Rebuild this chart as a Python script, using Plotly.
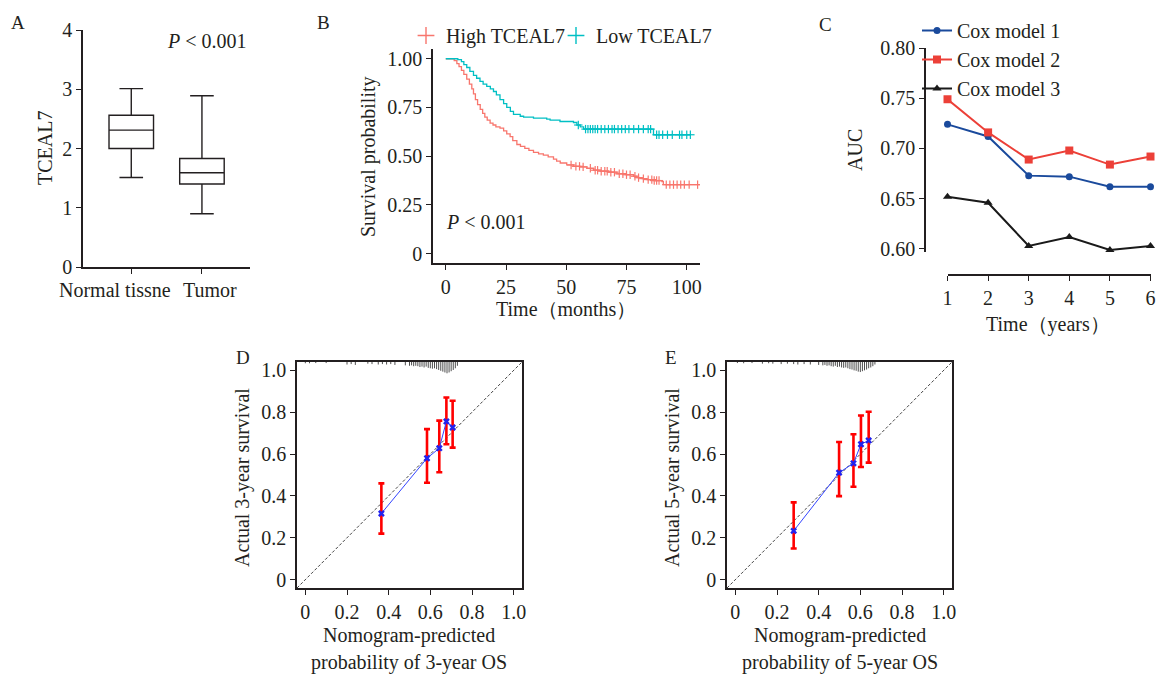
import numpy as np
import plotly.graph_objects as go

W, H = 1157, 675
FONT = "Liberation Serif"
INK = "#231f20"
FS = 20

# ---- A: box plot of TCEAL7 ----
box_groups = ["Normal tissne", "Tumor"]
box_min = [1.51, 0.90]
box_q1 = [2.00, 1.40]
box_med = [2.31, 1.59]
box_q3 = [2.56, 1.83]
box_max = [3.01, 2.89]

# ---- B: Kaplan-Meier ----
high_t = [0, 3.5, 4.6, 5.5, 6.5, 7.5, 8.7, 9.8, 10.8, 11.5, 12.3, 13.2, 14.3, 15.3, 16.2,
          17.2, 18.4, 19.6, 20.8, 22.5, 24.0, 25.3, 26.7, 27.8, 29.5, 31.0, 32.8, 34.5,
          36.4, 38.5, 40.5, 42.5, 44.7, 46.0, 47.5, 50.2, 53.0, 56.0, 58.6, 61.3, 64.1,
          67.5, 71.0, 74.5, 77.9, 79.3, 81.5, 83.5, 86.5, 89.7, 90.3, 105.5]
high_s = [1.0, 0.99, 0.975, 0.96, 0.94, 0.92, 0.895, 0.87, 0.845, 0.82, 0.79, 0.765, 0.74,
          0.72, 0.70, 0.685, 0.67, 0.66, 0.65, 0.644, 0.63, 0.615, 0.60, 0.58, 0.56, 0.55,
          0.54, 0.53, 0.52, 0.512, 0.505, 0.497, 0.485, 0.475, 0.465, 0.455, 0.448, 0.445,
          0.438, 0.428, 0.423, 0.418, 0.41, 0.405, 0.397, 0.39, 0.385, 0.38, 0.375, 0.37,
          0.354, 0.354]
high_cens = [52, 54, 55.5, 57, 60, 62, 63, 64.5, 66, 67, 68.5, 70, 72, 73.5, 75, 76.5, 78.5,
             80, 82, 84, 85.5, 86.5, 87.5, 88.5, 91.5, 93, 94.5, 96, 97.5, 99, 101, 104.5]

low_t = [0, 5.0, 6.5, 7.5, 8.7, 10.0, 11.5, 12.8, 14.2, 15.5, 17.0, 18.5, 19.8, 21.0, 22.5,
         24.0, 25.3, 26.8, 28.1, 30.9, 32.3, 36.4, 41.9, 43.3, 47.4, 53.0, 54.4, 55.8, 57.2,
         86.2, 101.4]
low_s = [1.0, 0.995, 0.985, 0.97, 0.955, 0.935, 0.915, 0.90, 0.884, 0.87, 0.858, 0.845,
         0.832, 0.815, 0.79, 0.77, 0.75, 0.73, 0.715, 0.705, 0.70, 0.695, 0.69, 0.685,
         0.678, 0.673, 0.66, 0.65, 0.639, 0.61, 0.61]
low_cens = [55, 58, 59, 60, 61, 62, 63, 64.5, 66, 67.5, 69, 70, 71.5, 73, 74.5, 76, 78, 80,
            82, 84, 85, 87.5, 88.5, 90, 92, 94, 97, 98, 100, 101.5]

# ---- C: time-dependent AUC ----
years = [1, 2, 3, 4, 5, 6]
auc_m1 = [0.724, 0.712, 0.673, 0.672, 0.662, 0.662]
auc_m2 = [0.749, 0.716, 0.689, 0.698, 0.684, 0.692]
auc_m3 = [0.652, 0.646, 0.603, 0.612, 0.599, 0.603]

# ---- D / E: calibration ----
pred_3y = [0.365, 0.584, 0.643, 0.677, 0.707]
obs_3y = [0.316, 0.580, 0.628, 0.756, 0.727]
lo_3y = [0.220, 0.463, 0.513, 0.647, 0.631]
hi_3y = [0.460, 0.719, 0.760, 0.870, 0.855]

pred_5y = [0.280, 0.498, 0.567, 0.603, 0.640]
obs_5y = [0.233, 0.511, 0.556, 0.647, 0.665]
lo_5y = [0.149, 0.399, 0.444, 0.538, 0.559]
hi_5y = [0.369, 0.658, 0.695, 0.784, 0.802]

rug_x_3y = [0.00, 0.02, 0.05, 0.10, 0.20, 0.22, 0.24, 0.30, 0.32, 0.35, 0.37, 0.39, 0.41,
            0.43, 0.48, 0.50, 0.51, 0.52, 0.53, 0.54, 0.55, 0.56, 0.57, 0.58, 0.59, 0.60,
            0.61, 0.62, 0.63, 0.64, 0.65, 0.66, 0.67, 0.68, 0.69, 0.70, 0.71, 0.72, 0.73]
rug_h_3y = [0.006, 0.006, 0.005, 0.005, 0.012, 0.010, 0.014, 0.008, 0.010, 0.012, 0.010,
            0.012, 0.010, 0.014, 0.016, 0.018, 0.016, 0.020, 0.018, 0.020, 0.024, 0.022,
            0.026, 0.022, 0.028, 0.030, 0.032, 0.030, 0.034, 0.038, 0.042, 0.046, 0.050,
            0.054, 0.050, 0.044, 0.038, 0.030, 0.018]
rug_x_5y = [0.01, 0.04, 0.08, 0.13, 0.16, 0.18, 0.22, 0.25, 0.28, 0.30, 0.33, 0.36, 0.40,
            0.42, 0.43, 0.44, 0.45, 0.46, 0.47, 0.48, 0.49, 0.50, 0.51, 0.52, 0.53, 0.54,
            0.55, 0.56, 0.57, 0.58, 0.59, 0.60, 0.61, 0.62, 0.63, 0.64, 0.65, 0.66, 0.67]
rug_h_5y = [0.005, 0.006, 0.005, 0.008, 0.006, 0.008, 0.010, 0.008, 0.010, 0.012, 0.010,
            0.012, 0.014, 0.016, 0.014, 0.018, 0.016, 0.020, 0.022, 0.018, 0.024, 0.022,
            0.026, 0.028, 0.026, 0.030, 0.034, 0.036, 0.040, 0.042, 0.046, 0.048, 0.044,
            0.040, 0.036, 0.030, 0.026, 0.020, 0.012]


def px_x(p):
    return p / W


def px_y(p):
    return 1 - p / H


def step_at(times, surv, t):
    i = np.searchsorted(np.array(times), t, side="right") - 1
    return surv[i]


fig = go.Figure()

# A
fig.add_trace(go.Box(
    x=box_groups, q1=box_q1, median=box_med, q3=box_q3,
    lowerfence=box_min, upperfence=box_max, width=0.63, whiskerwidth=0.53,
    boxpoints=False, fillcolor="white", line=dict(color=INK, width=1.4),
    xaxis="x", yaxis="y", showlegend=False, hoverinfo="skip"))

# B
RED, CYAN = "#F8766D", "#00BFC4"
for t, s, cens, col, name, lg in [(high_t, high_s, high_cens, RED, "High TCEAL7", "legend"),
                                  (low_t, low_s, low_cens, CYAN, "Low TCEAL7", "legend3")]:
    fig.add_trace(go.Scatter(x=t, y=s, mode="lines", line=dict(color=col, width=1.3, shape="hv"),
                             xaxis="x2", yaxis="y2", showlegend=False))
    cy = [step_at(t, s, c) for c in cens]
    for sym in ["line-ns", "line-ew"]:
        fig.add_trace(go.Scatter(x=cens, y=cy, mode="markers",
                                 marker=dict(symbol=sym, size=6, line=dict(color=col, width=1.2)),
                                 xaxis="x2", yaxis="y2", showlegend=False))
    fig.add_trace(go.Scatter(x=[None], y=[None], mode="markers", name=name,
                             marker=dict(symbol="cross-thin", size=12, line=dict(color=col, width=1.4)),
                             xaxis="x2", yaxis="y2", legend=lg))

# C
for vals, col, sym, name in [(auc_m1, "#1a4a9c", "circle", "Cox model 1"),
                             (auc_m2, "#ec4038", "square", "Cox model 2"),
                             (auc_m3, "#1a1a1a", "triangle-up", "Cox model 3")]:
    fig.add_trace(go.Scatter(x=years, y=vals, mode="lines+markers", name=name,
                             line=dict(color=col, width=2),
                             marker=dict(symbol=sym, size=8 if sym != "circle" else 7, color=col),
                             cliponaxis=False, xaxis="x3", yaxis="y3", legend="legend2"))

# D, E
for xa, ya, pred, obs, lo, hi, rx, rh in [("x4", "y4", pred_3y, obs_3y, lo_3y, hi_3y, rug_x_3y, rug_h_3y),
                                          ("x5", "y5", pred_5y, obs_5y, lo_5y, hi_5y, rug_x_5y, rug_h_5y)]:
    top = 1.04
    rug_xs, rug_ys = [], []
    for p, h in zip(rx, rh):
        rug_xs += [p, p, None]
        rug_ys += [top, top - h, None]
    fig.add_trace(go.Scatter(x=rug_xs, y=rug_ys, mode="lines", line=dict(color="#222", width=0.8),
                             xaxis=xa, yaxis=ya, showlegend=False))
    fig.add_trace(go.Scatter(x=[-0.04, 1.04], y=[-0.04, 1.04], mode="lines",
                             line=dict(color="#444", width=1, dash="3px,2px"),
                             xaxis=xa, yaxis=ya, showlegend=False))
    fig.add_trace(go.Scatter(x=pred, y=obs, mode="markers", marker=dict(size=1, opacity=0),
                             error_y=dict(type="data", symmetric=False,
                                          array=[h - o for h, o in zip(hi, obs)],
                                          arrayminus=[o - l for o, l in zip(obs, lo)],
                                          color="#ff0000", thickness=2.6, width=3),
                             xaxis=xa, yaxis=ya, showlegend=False))
    fig.add_trace(go.Scatter(x=pred, y=obs, mode="lines+markers",
                             line=dict(color="#3344ff", width=1),
                             marker=dict(symbol="x", size=6, color="#2222ee"),
                             xaxis=xa, yaxis=ya, showlegend=False))

axis_common = dict(showline=True, linecolor=INK, linewidth=1.5, ticks="outside",
                   ticklen=5, tickwidth=1.3, tickcolor=INK, showgrid=False, zeroline=False,
                   automargin=False, tickangle=0, tickfont=dict(family=FONT, size=FS, color=INK))
cal_ticks = dict(tickvals=[0, 0.2, 0.4, 0.6, 0.8, 1.0], ticktext=["0", "0.2", "0.4", "0.6", "0.8", "1.0"],
                 range=[-0.04, 1.04], mirror=True)
legend_common = dict(xanchor="left", yanchor="top", font=dict(family=FONT, size=FS, color=INK),
                     bgcolor="rgba(0,0,0,0)", itemwidth=30, tracegroupgap=0)

fig.update_layout(
    width=W, height=H, margin=dict(l=0, r=0, t=0, b=0),
    plot_bgcolor="white", paper_bgcolor="white",
    font=dict(family=FONT, size=FS, color=INK),
    xaxis=dict(axis_common, domain=[px_x(83), px_x(250)], range=[-0.683, 1.68], anchor="y",
               showticklabels=False),
    yaxis=dict(axis_common, domain=[px_y(267), px_y(30)], range=[0, 4], anchor="x",
               tickvals=[0, 1, 2, 3, 4]),
    xaxis2=dict(axis_common, domain=[px_x(433), px_x(700)], range=[-5.3, 105.5], anchor="y2",
                tickvals=[0, 25, 50, 75, 100]),
    yaxis2=dict(axis_common, domain=[px_y(263), px_y(49)], range=[-0.048, 1.05], anchor="x2",
                tickvals=[0, 0.25, 0.5, 0.75, 1.0], ticktext=["0", "0.25", "0.50", "0.75", "1.00"]),
    xaxis3=dict(axis_common, domain=[px_x(947.5), px_x(1150.5)], range=[1, 6], anchor="free",
                position=px_y(275), tickvals=years),
    yaxis3=dict(axis_common, domain=[px_y(252), px_y(48)], range=[0.597, 0.80], anchor="free",
                position=px_x(925), tickvals=[0.60, 0.65, 0.70, 0.75, 0.80], tickformat=".2f"),
    xaxis4=dict(**axis_common, **cal_ticks, domain=[px_x(297), px_x(522)], anchor="y4"),
    yaxis4=dict(**axis_common, **cal_ticks, domain=[px_y(588), px_y(362)], anchor="x4"),
    xaxis5=dict(**axis_common, **cal_ticks, domain=[px_x(727), px_x(952)], anchor="y5"),
    yaxis5=dict(**axis_common, **cal_ticks, domain=[px_y(588), px_y(362)], anchor="x5"),
    legend=dict(legend_common, x=px_x(406), y=px_y(16)),
    legend3=dict(legend_common, x=px_x(556), y=px_y(16)),
    legend2=dict(legend_common, x=px_x(917), y=px_y(11)),
)


def note(text, x, y, size=FS, angle=0):
    fig.add_annotation(text=text, x=px_x(x), y=px_y(y), xref="paper", yref="paper",
                       showarrow=False, textangle=angle, xanchor="center", yanchor="middle",
                       font=dict(family=FONT, size=size, color=INK))


for lbl, x, y in [("A", 18, 22), ("B", 323, 22), ("C", 825, 24), ("D", 243, 357), ("E", 671, 357)]:
    note(lbl, x, y, size=19)

# category labels of panel A sit off-centre in the reference
for lbl, x in zip(box_groups, [115, 210]):
    note(lbl, x, 290)

note("<i>P</i> < 0.001", 207, 41)
note("<i>P</i> < 0.001", 486, 222)
note("TCEAL7", 45, 148, angle=-90)
note("Survival probability", 368, 157, angle=-90)
note("Time（months）", 566, 309)
note("AUC", 855, 150, angle=-90)
note("Time（years）", 1048, 325)
note("Actual 3-year survival", 242, 478, angle=-90)
note("Actual 5-year survival", 672, 478, angle=-90)
note("Nomogram-predicted", 409, 635)
note("probability of 3-year OS", 409, 662)
note("Nomogram-predicted", 840, 635)
note("probability of 5-year OS", 840, 662)

fig.write_html("out.html", config={"displayModeBar": False},
               post_script="document.body.style.margin='0';")
